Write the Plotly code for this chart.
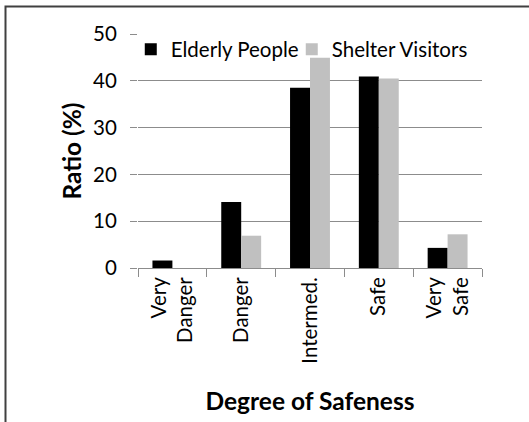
import plotly.graph_objects as go

categories = ["Very<br>Danger", "Danger", "Intermed.", "Safe", "Very<br>Safe"]
elderly = [1.6, 14.1, 38.5, 40.9, 4.3]
shelter = [0.0, 6.9, 44.9, 40.5, 7.2]
series_names = ["Elderly People", "Shelter Visitors"]
y_ticks = [0, 10, 20, 30, 40, 50]

W, H = 529, 422
L, R, T, B = 138, 47, 34, 154
pw, ph = W - L - R, H - T - B

font = "Lato, Carlito, Calibri, sans-serif"

fig = go.Figure()
fig.add_trace(go.Bar(x=categories, y=elderly, name=series_names[0], legend="legend",
                     marker=dict(color="#000000", line=dict(width=0))))
fig.add_trace(go.Bar(x=categories, y=shelter, name=series_names[1], legend="legend2",
                     marker=dict(color="#c0c0c0", line=dict(width=0))))

def px_to_paper_x(px):
    return (px - L) / pw

def px_to_paper_y(py):
    return 1 - (py - T) / ph

fig.add_shape(type="rect", xref="paper", yref="paper",
              x0=px_to_paper_x(5.5), x1=px_to_paper_x(540),
              y0=px_to_paper_y(440), y1=px_to_paper_y(6.5),
              line=dict(color="#404040", width=2), layer="below")

leg_common = dict(orientation="h", y=1.02, xanchor="left", yanchor="top",
                  font=dict(size=20.5), bgcolor="rgba(0,0,0,0)", itemwidth=30)

fig.update_layout(
    width=W, height=H,
    margin=dict(l=L, r=R, t=T, b=B),
    paper_bgcolor="white", plot_bgcolor="white",
    barmode="group", bargap=0.42, bargroupgap=0,
    font=dict(family=font, size=20, color="black"),
    showlegend=True,
    legend=dict(x=-0.021, **leg_common),
    legend2=dict(x=0.447, **leg_common),
    xaxis=dict(
        title=dict(text="<b>Degree of Safeness</b>", font=dict(size=24.5), standoff=30),
        tickangle=-90, tickson="boundaries", ticks="outside", ticklen=8,
        tickcolor="#8c8c8c", showline=True, linecolor="#8c8c8c", linewidth=1,
        showgrid=False, tickfont=dict(size=20.5),
    ),
    yaxis=dict(
        title=dict(text="<b>Ratio (%)</b>", font=dict(size=24.5), standoff=4),
        range=[0, 50], tickvals=y_ticks, ticks="outside", ticklen=7,
        ticklabelstandoff=9,
        tickcolor="#8c8c8c", showgrid=True, gridcolor="#8c8c8c", gridwidth=1,
        showline=False, zeroline=False, tickfont=dict(size=20.5),
    ),
)

fig.write_html("out.html")
